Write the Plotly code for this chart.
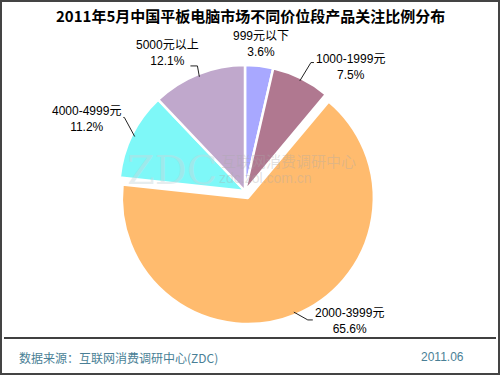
import math
import plotly.graph_objects as go

# ---- data ----
categories = ["999元以下", "1000-1999元", "2000-3999元", "4000-4999元", "5000元以上"]
values = [3.6, 7.5, 65.6, 11.2, 12.1]
pct_labels = ["3.6%", "7.5%", "65.6%", "11.2%", "12.1%"]
title_text = "2011年5月中国平板电脑市场不同价位段产品关注比例分布"
source_text = "数据来源：互联网消费调研中心(ZDC)"
date_text = "2011.06"

# ---- style / layout ----
colors = ["#a8a8ff", "#b07890", "#ffbb6e", "#7ef8f8", "#c0a8cc"]
pulls = [0, 0, 0.06, 0, 0]
# label layout tweaks (pixels): elbow nudge, leader horizontal segment, text offset from elbow
elbow_nudge = [(0, 0), (4, -4), (8, -7), (4, -12), (4, 4)]
seg_len = [0, 3, 5, -1, -7]
text_offset = [(0, -9), (3, 4), (5, 1), (-1, 2), (4, -12.5)]

W, H = 500, 375
FONT = "Liberation Sans, Noto Sans CJK SC, sans-serif"
CJK = "Noto Sans CJK SC, Liberation Sans, sans-serif"

cx, cy, r = 245.0, 191.0, 126.0
half = r * (1 + max(pulls))


def px(x):
    return x / W


def py(y):
    return 1 - y / H


fig = go.Figure()
fig.add_trace(go.Pie(
    labels=categories,
    values=values,
    sort=False,
    direction="clockwise",
    rotation=0,
    pull=pulls,
    marker=dict(colors=colors, line=dict(color="white", width=2.5)),
    textinfo="none",
    hoverinfo="label+percent",
    showlegend=False,
    domain=dict(x=[px(cx - half), px(cx + half)], y=[py(cy + half), py(cy - half)]),
))

annotations = []
shapes = []

total = sum(values)
start = 0.0
for i, (cat, v, p, pl) in enumerate(zip(categories, values, pct_labels, pulls)):
    mid = (start + v / 2) / total * 2 * math.pi
    start += v
    sx, sy = math.sin(mid), -math.cos(mid)
    ox, oy = cx + sx * pl * r, cy + sy * pl * r
    ex, ey = ox + sx * (r - 3), oy + sy * (r - 3)
    rb = r + 13
    bx = ox + sx * rb + elbow_nudge[i][0]
    by = oy + sy * rb + elbow_nudge[i][1]
    tdx, tdy = text_offset[i]
    text = f"{cat}<br>{p}"
    if abs(sx) < 0.2:
        annotations.append(dict(x=px(bx + tdx), y=py(by + tdy), xref="paper", yref="paper",
                                text=text, showarrow=False, xanchor="center", yanchor="middle",
                                align="center", font=dict(size=12, color="black", family=FONT)))
        continue
    side = 1 if sx > 0 else -1
    hx = bx + seg_len[i]
    shapes.append(dict(type="path", xref="paper", yref="paper",
                       path=f"M {px(ex)} {py(ey)} L {px(bx)} {py(by)} L {px(hx)} {py(by)}",
                       line=dict(color="#222222", width=1)))
    annotations.append(dict(x=px(bx + tdx), y=py(by + tdy), xref="paper", yref="paper",
                            text=text, showarrow=False,
                            xanchor="left" if side > 0 else "right", yanchor="middle",
                            align="center", font=dict(size=12, color="black", family=FONT)))

# title
annotations.append(dict(x=0.5, y=py(16), xref="paper", yref="paper", text=f"<b>{title_text}</b>",
                        showarrow=False, xanchor="center", yanchor="middle",
                        font=dict(size=15, color="black", family=CJK)))
# footer
annotations.append(dict(x=px(17), y=py(357), xref="paper", yref="paper", text=source_text,
                        showarrow=False, xanchor="left", yanchor="middle",
                        font=dict(size=12, color="#4a7f96", family=CJK)))
annotations.append(dict(x=px(466), y=py(357), xref="paper", yref="paper", text=date_text,
                        showarrow=False, xanchor="right", yanchor="middle",
                        font=dict(size=12, color="#4a7f96", family=FONT)))
# watermark
annotations.append(dict(x=px(172), y=py(170), xref="paper", yref="paper", text="ZDC",
                        showarrow=False, xanchor="center", yanchor="middle",
                        font=dict(size=40, color="rgba(200,215,220,0.45)", family="DejaVu Serif")))
annotations.append(dict(x=px(288), y=py(160), xref="paper", yref="paper", text="互联网消费调研中心",
                        showarrow=False, xanchor="center", yanchor="middle",
                        font=dict(size=15, color="rgba(170,170,170,0.35)", family=CJK)))
annotations.append(dict(x=px(265), y=py(178), xref="paper", yref="paper", text="zdc.zol.com.cn",
                        showarrow=False, xanchor="center", yanchor="middle",
                        font=dict(size=14, color="rgba(170,170,170,0.35)", family=FONT)))

# frame and separator
shapes.append(dict(type="rect", xref="paper", yref="paper", x0=px(1), y0=py(374), x1=px(499), y1=py(1),
                   line=dict(color="#444444", width=2)))
shapes.append(dict(type="line", xref="paper", yref="paper", x0=px(4), y0=py(338), x1=px(496), y1=py(338),
                   line=dict(color="black", width=1.5)))

fig.update_layout(
    width=W, height=H,
    margin=dict(l=0, r=0, t=0, b=0),
    paper_bgcolor="white",
    plot_bgcolor="white",
    annotations=annotations,
    shapes=shapes,
)

fig.write_html(
    "out.html",
    config={"displayModeBar": False},
    post_script="document.body.style.margin='0';document.body.style.padding='0';"
                "document.body.style.overflow='hidden';",
)
